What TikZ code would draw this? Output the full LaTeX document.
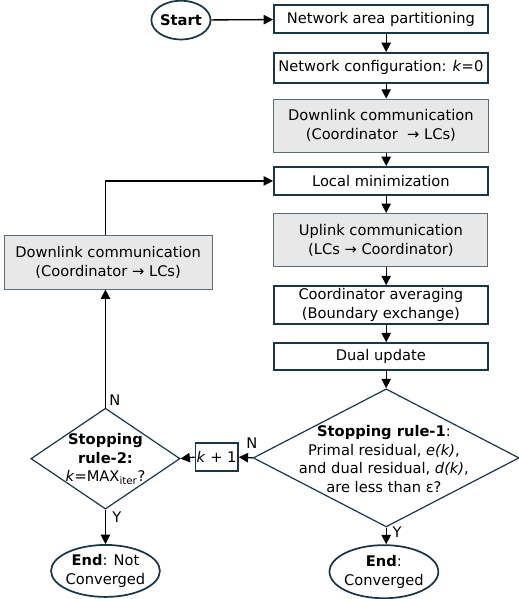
\documentclass[tikz,border=0pt]{standalone}
\usepackage{fontspec}
\setmainfont{DejaVu Sans}
\usetikzlibrary{shapes.geometric,arrows.meta}

\definecolor{navy}{HTML}{1B3647}
\definecolor{boxgray}{HTML}{E8E8E8}
\definecolor{edgegray}{HTML}{5C6C78}

\begin{document}
\begin{tikzpicture}[
        font=\fontsize{11}{14}\selectfont,
        proc/.style={draw=navy, line width=1.3pt, fill=white, minimum width=5.64cm, inner sep=1pt, align=center},
        comm/.style={draw=edgegray, line width=0.6pt, fill=boxgray, minimum width=5.64cm, minimum height=1.41cm, inner sep=1pt, align=center},
        term/.style={draw=navy, line width=1.3pt, ellipse, inner sep=-1pt, align=center},
        decide/.style={draw=navy, line width=0.9pt, diamond, inner sep=0pt},
        arr/.style={-{Triangle[length=7pt,width=7pt]}, line width=1pt},
        lbl/.style={inner sep=0pt}
    ]
            \useasboundingbox (0,0) rectangle (13.66,-15.79);

            % main column
            \node[term, minimum width=1.56cm, minimum height=1.02cm] (st) at (4.77,-0.53) {\textbf{Start}};
            \node[proc, minimum height=0.74cm] (b1) at (10.04,-0.50) {Network area partitioning};
            \node[proc, minimum height=0.79cm] (b2) at (10.04,-1.79) {Network configuration: \textit{k}=0};
            \node[comm, minimum width=5.69cm, minimum height=1.40cm] (b3) at (10.04,-3.31) {Downlink communication\\(Coordinator\ \ → LCs)};
            \node[proc, minimum height=0.74cm] (b4) at (10.04,-4.77) {Local minimization};
            \node[comm] (b5) at (10.04,-6.33) {Uplink communication\\(LCs → Coordinator)};
            \node[proc, minimum height=1.00cm] (b6) at (10.04,-8.04) {Coordinator averaging\\(Boundary exchange)};
            \node[proc, minimum height=0.71cm] (b7) at (10.04,-9.40) {Dual update};

            \node[decide, minimum width=7.01cm, minimum height=3.64cm] (d1) at (10.18,-12.07) {};
            \node[align=center] (d1t) at (10.12,-12.10) {\textbf{Stopping rule-1}:\\Primal residual, \textit{e(k)},\\and dual residual, \textit{d(k)},\\are less than ε?};
            \node[term, minimum width=2.58cm, minimum height=1.40cm] (e2) at (10.12,-15.07) {\textbf{End}:\\Converged};

            % left column
            \node[proc, line width=1pt, minimum width=1.13cm, minimum height=0.74cm] (kb) at (5.71,-12.05) {\textit{k} + 1};
            \node[decide, minimum width=3.93cm, minimum height=2.66cm] (d2) at (2.78,-12.09) {};
            \node[align=center] (d2t) at (2.78,-12.10) {\textbf{Stopping}\\\textbf{rule-2:}\\\textit{k}=MAX\textsubscript{iter}?};
            \node[comm, minimum width=5.48cm, minimum height=1.42cm] (lb) at (2.85,-6.91) {Downlink communication\\(Coordinator → LCs)};
            \node[term, minimum width=2.72cm, minimum height=1.37cm] (e1) at (2.78,-15.05) {\textbf{End}: Not\\Converged};

            % connectors
            \draw[arr] (st) -- (b1);
            \draw[arr] (b1.south -| d1) -- (b2.north -| d1);
            \draw[arr] (b2.south -| d1) -- (b3.north -| d1);
            \draw[arr] (b3.south -| d1) -- (b4.north -| d1);
            \draw[arr] (b4.south -| d1) -- (b5.north -| d1);
            \draw[arr] (b5.south -| d1) -- (b6.north -| d1);
            \draw[arr] (b6.south -| d1) -- (b7.north -| d1);
            \draw[arr] (b7.south -| d1) -- (d1.north);
            \draw[arr] (d1.south) -- (e2.north -| d1);
            \draw[arr] (d1.west) -- (kb.east);
            \draw[arr] (kb.west) -- (d2.east);
            \draw[arr] (d2.south) -- (e1.north -| d2);
            \draw[arr] (d2.north) -- (lb.south -| d2);
            \draw[arr] (lb.north -| d2) |- (b4.west);

            \node[lbl] (n1) at (6.64,-11.68) {N};
            \node[lbl] (y1) at (10.47,-14.03) {Y};
            \node[lbl] (n2) at (3.03,-10.55) {N};
            \node[lbl] (y2) at (3.08,-13.63) {Y};
        \end{tikzpicture}
\end{document}
